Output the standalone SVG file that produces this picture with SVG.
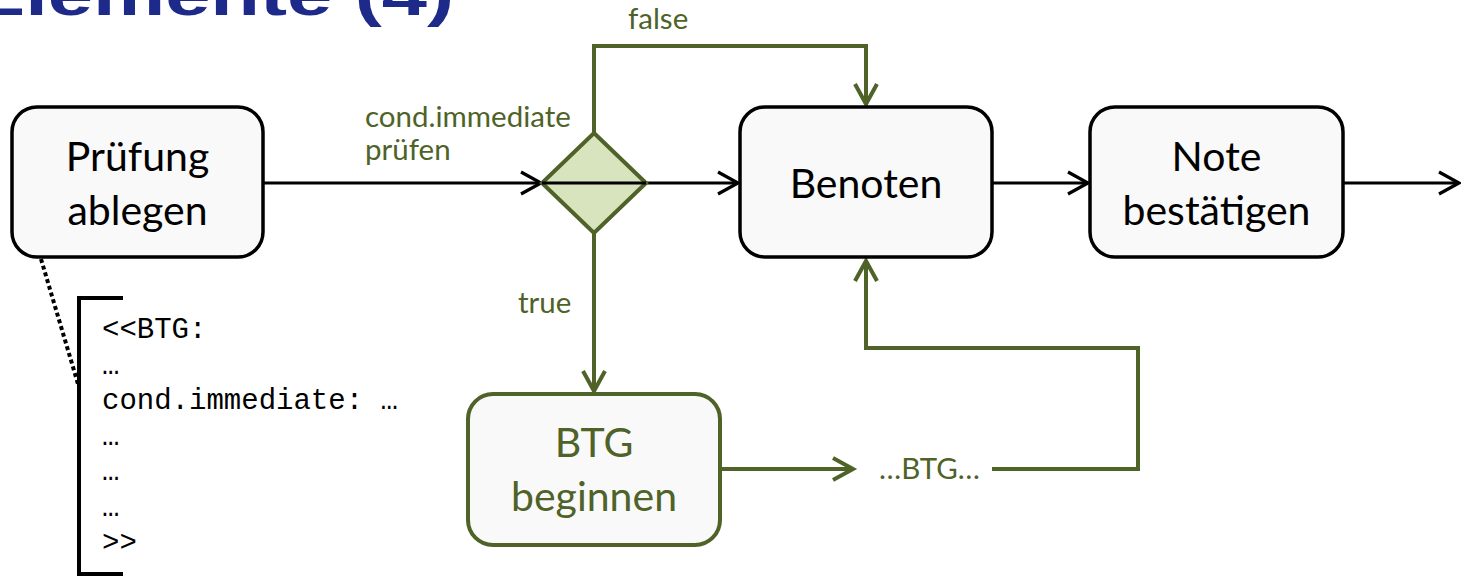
<svg xmlns="http://www.w3.org/2000/svg" width="1461" height="577" viewBox="0 0 1461 577">
  <defs>
    <marker id="ah-black" viewBox="0 0 24 24" markerWidth="24" markerHeight="24" refX="23" refY="12" orient="auto" markerUnits="userSpaceOnUse" overflow="visible">
      <path d="M3,1 L23,12 L3,23" fill="none" stroke="#000" stroke-width="3.2"/>
    </marker>
    <marker id="ah-green" viewBox="0 0 24 24" markerWidth="24" markerHeight="24" refX="23" refY="12" orient="auto" markerUnits="userSpaceOnUse" overflow="visible">
      <path d="M3,1 L23,12 L3,23" fill="none" stroke="#4F6228" stroke-width="4"/>
    </marker>
  </defs>
  <style>
    .box{fill:#F9F9F9;stroke:#000;stroke-width:3.5}
    .gbox{fill:#F9F9F9;stroke:#4F6228;stroke-width:4}
    .lbl{font-family:Lato,"Open Sans",sans-serif;font-size:41px;text-anchor:middle;fill:#000}
    .green{fill:#4F6228}
    .elbl{font-family:Lato,"Open Sans",sans-serif;font-size:29.5px;fill:#4F6228}
    .edge{fill:none;stroke:#000;stroke-width:3}
    .gedge{fill:none;stroke:#4F6228;stroke-width:4}
    .code{font-family:"Liberation Mono",monospace;font-size:29px;fill:#000}
  </style>
  <rect width="1461" height="577" fill="#fff"/>

  <!-- slide title, cut at the top edge -->
  <text x="-29" y="15" font-family="Liberation Sans, Arial, sans-serif" font-weight="bold" font-size="58" fill="#1D2A8A" textLength="483" lengthAdjust="spacingAndGlyphs">Elemente (4)</text>

  <!-- connectors -->
  <g id="connectors">
    <path class="edge" d="M263,183 H541" marker-end="url(#ah-black)"/>
    <path class="edge" d="M542,183 H738" marker-end="url(#ah-black)"/>
    <path class="edge" d="M992,183 H1088" marker-end="url(#ah-black)"/>
    <path class="edge" d="M1343,183 H1459" marker-end="url(#ah-black)"/>
    <path class="gedge" d="M594,133 V46 H866 V104" marker-end="url(#ah-green)"/>
    <path class="gedge" d="M594,233 V391" marker-end="url(#ah-green)"/>
    <path class="gedge" d="M720,469 H853" marker-end="url(#ah-green)"/>
    <path class="gedge" d="M992,469 H1138 V348 H866 V261" marker-end="url(#ah-green)"/>
    <path d="M41,259 L78,384" fill="none" stroke="#000" stroke-width="4" stroke-dasharray="4 3"/>
    <text class="elbl" x="365" y="127">cond.immediate</text>
    <text class="elbl" x="365" y="160">prüfen</text>
    <text class="elbl" x="628" y="29">false</text>
    <text class="elbl" x="518" y="313">true</text>
    <text class="elbl" x="879" y="479" font-size="26.5">…BTG…</text>
  </g>

  <!-- decision -->
  <g id="decision">
    <polygon points="594,133 646,183 594,233 542,183" fill="#D7E4BD" stroke="#4F6228" stroke-width="4"/>
  </g>
  <!-- straight-through flow drawn over the diamond -->
  <path class="edge" d="M542,183 H646"/>

  <g id="pruefung">
    <rect class="box" x="12" y="107" width="251" height="150" rx="25"/>
    <text class="lbl" x="137.5" y="171">Prüfung</text>
    <text class="lbl" x="137.5" y="225">ablegen</text>
  </g>

  <g id="benoten">
    <rect class="box" x="740" y="107" width="252" height="150" rx="25"/>
    <text class="lbl" x="866" y="198">Benoten</text>
  </g>

  <g id="note">
    <rect class="box" x="1090" y="107" width="253" height="150" rx="25"/>
    <text class="lbl" x="1216.5" y="171">Note</text>
    <text class="lbl" x="1216.5" y="225">bestätigen</text>
  </g>

  <g id="btg">
    <rect class="gbox" x="468" y="394" width="252" height="151" rx="25"/>
    <text class="lbl green" x="594" y="457">BTG</text>
    <text class="lbl green" x="594" y="511">beginnen</text>
  </g>

  <g id="annotation">
    <path d="M123,298 H79 V574 H123" fill="none" stroke="#000" stroke-width="4"/>
    <text class="code" x="102" y="338">&lt;&lt;BTG:</text>
    <text class="code" x="102" y="373.5">…</text>
    <text class="code" x="102" y="409">cond.immediate: …</text>
    <text class="code" x="102" y="444.5">…</text>
    <text class="code" x="102" y="480">…</text>
    <text class="code" x="102" y="515.5">…</text>
    <text class="code" x="102" y="551">&gt;&gt;</text>
  </g>
</svg>
